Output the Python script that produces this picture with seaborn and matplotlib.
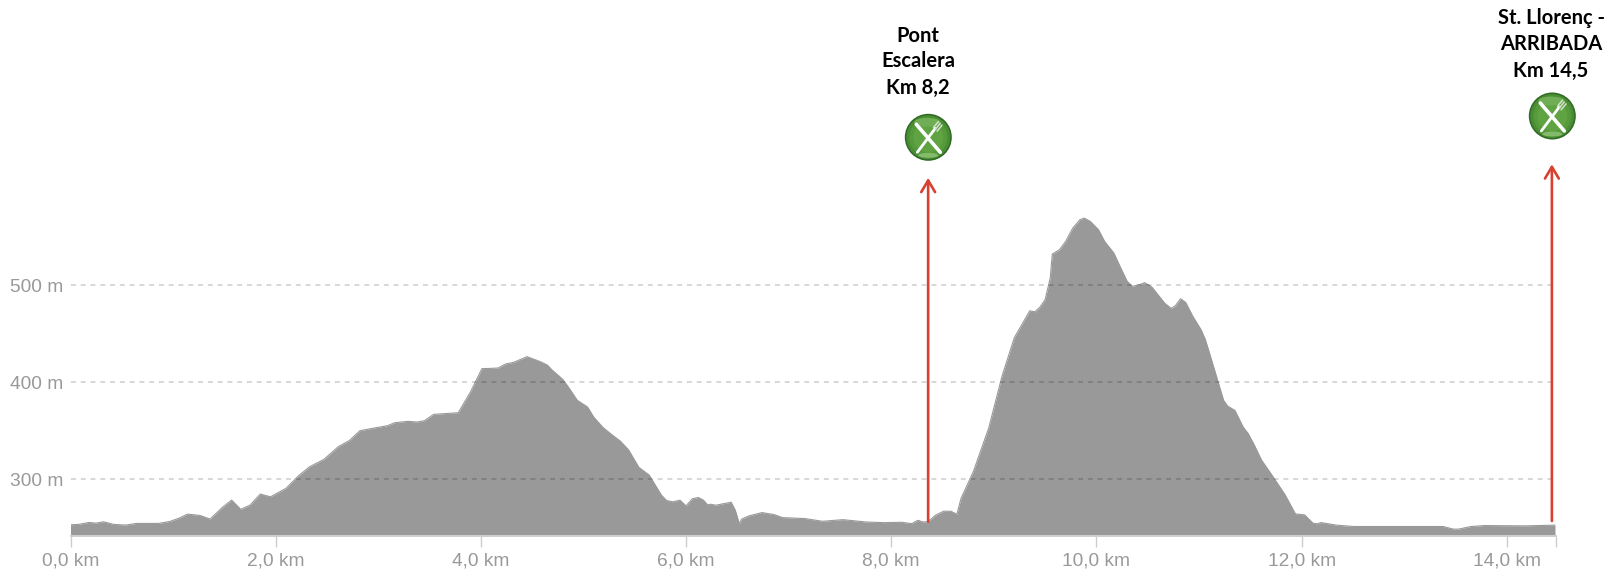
import seaborn as sns
import matplotlib.pyplot as plt
import pandas as pd
from matplotlib.patches import Circle, Ellipse
from matplotlib.transforms import Affine2D

# Elevation profile
km = [0.00, 0.08, 0.18, 0.25, 0.32, 0.42, 0.54, 0.64, 0.86, 0.97, 1.06, 1.14, 1.26, 1.36, 1.48, 1.57,
      1.66, 1.75, 1.85, 1.95, 2.10, 2.22, 2.33, 2.47, 2.61, 2.72, 2.82, 2.96, 3.09, 3.16, 3.29, 3.38,
      3.45, 3.54, 3.78, 3.90, 4.01, 4.10, 4.17, 4.24, 4.32, 4.45, 4.58, 4.65, 4.69, 4.80, 4.87, 4.94,
      5.04, 5.10, 5.19, 5.27, 5.36, 5.44, 5.54, 5.64, 5.69, 5.76, 5.81, 5.87, 5.94, 6.00, 6.06, 6.12,
      6.17, 6.21, 6.24, 6.29, 6.44, 6.48, 6.52, 6.54, 6.61, 6.74, 6.86, 6.94, 7.16, 7.33, 7.53, 7.75,
      7.93, 8.10, 8.20, 8.26, 8.31, 8.36, 8.43, 8.51, 8.58, 8.64, 8.68, 8.80, 8.95, 9.08, 9.20, 9.35,
      9.40, 9.45, 9.50, 9.55, 9.57, 9.64, 9.70, 9.77, 9.84, 9.88, 9.94, 10.02, 10.08, 10.17, 10.23,
      10.30, 10.35, 10.42, 10.47, 10.54, 10.60, 10.67, 10.73, 10.77, 10.82, 10.87, 10.94, 11.02, 11.06,
      11.11, 11.19, 11.24, 11.28, 11.35, 11.43, 11.48, 11.54, 11.61, 11.70, 11.84, 11.94, 12.03, 12.11,
      12.15, 12.19, 12.34, 12.51, 13.38, 13.48, 13.53, 13.65, 13.78, 14.18, 14.47]
elevation = [252.8, 253.2, 255.2, 254.5, 255.9, 253.2, 252.5, 254.2, 254.2, 256.3, 259.7, 263.8, 262.5, 258.7, 270.7, 278.3,
             268.7, 273.1, 284.5, 281.7, 290.4, 303.1, 312.7, 320.3, 333.4, 339.9, 349.9, 352.7, 355.1, 358.2, 359.6, 358.9,
             360.3, 366.8, 368.5, 390.2, 414.0, 414.3, 414.7, 418.8, 420.5, 426.4, 421.2, 417.6, 413.0, 402.8, 392.4, 381.3,
             374.4, 364.0, 353.3, 346.4, 339.1, 330.1, 312.1, 304.2, 295.5, 283.4, 277.9, 276.5, 278.2, 272.3, 279.6, 281.0,
             278.2, 273.4, 274.0, 273.0, 276.1, 267.8, 253.6, 258.5, 261.9, 265.4, 263.3, 260.2, 259.2, 256.4, 258.1, 255.7,
             255.0, 255.4, 254.0, 257.4, 255.7, 256.0, 262.6, 266.8, 266.8, 263.7, 279.9, 307.6, 352.6, 406.2, 446.0, 473.7,
             472.7, 477.6, 485.2, 507.6, 532.4, 536.8, 545.4, 559.2, 567.8, 569.5, 566.1, 557.5, 545.4, 533.4, 519.6,
             504.1, 499.0, 500.7, 502.8, 498.3, 490.4, 481.1, 476.2, 479.0, 486.2, 482.4, 468.0, 454.2, 444.6,
             427.4, 399.0, 381.2, 375.3, 370.9, 353.8, 346.9, 334.9, 319.5, 305.8, 283.6, 264.0, 263.0, 254.5,
             253.8, 255.1, 252.4, 251.0, 251.0, 248.3, 248.3, 251.0, 252.0, 251.7, 252.4]

x_ticks = [0, 2, 4, 6, 8, 10, 12, 14]
x_labels = ['0,0 km', '2,0 km', '4,0 km', '6,0 km', '8,0 km', '10,0 km', '12,0 km', '14,0 km']
y_ticks = [300, 400, 500]
y_labels = ['300 m', '400 m', '500 m']
route_end = 14.48

stop_km = [8.36, 14.44]
stop_tip = [611, 625]
stop_foot = [256, 256.7]
stop_names = [['Pont', 'Escalera', 'Km 8,2'], ['St. Llorenç -', 'ARRIBADA', 'Km 14,5']]

sns.set_style('white')
plt.rcParams['font.family'] = ['Liberation Sans', 'DejaVu Sans']

W, H = 1617, 571
fig = plt.figure(figsize=(W / 100, H / 100), dpi=100)
ax = fig.add_axes([70.5 / W, (H - 536.3) / H, (1556 - 70.5) / W, 536.3 / H])
ax.set_xlim(0, route_end)
ax.set_ylim(240.9, 240.9 + 536.3 / 0.9685)

df = pd.DataFrame({'km': km, 'elevation': elevation})
ax.fill_between(df['km'], 240.9, df['elevation'], color='#999999', lw=0, zorder=1)
sns.lineplot(data=df, x='km', y='elevation', color='#999999', lw=0.8, ax=ax, zorder=1)

# grid sits over the fill, so it goes darker there
ax.hlines(y_ticks, 0, stop_km[1], color='black', alpha=0.2, lw=1.1, linestyles=(0, (3.2, 3.2)), zorder=2)

ax.set_xticks(x_ticks + [route_end])
ax.set_xticklabels(x_labels + [''])
ax.set_yticks(y_ticks)
ax.set_yticklabels(y_labels)
ax.set_xlabel('')
ax.set_ylabel('')
ax.tick_params(axis='x', bottom=True, length=8, width=1, color='#cccccc', pad=3.5, labelsize=13.8, labelcolor='#999999')
ax.tick_params(axis='y', left=False, pad=1.5, labelsize=13.8, labelcolor='#999999')
for side in ['top', 'right', 'left']:
    ax.spines[side].set_visible(False)
ax.spines['bottom'].set_color('#d0d0d0')
ax.spines['bottom'].set_linewidth(1.4)
ax.patch.set_alpha(0)

# pixels from top left, for the drawn icons and the stop captions
px = Affine2D().scale(1, -1).translate(0, H)


def food_icon(cx, cy):
    for r, c in [(23.5, '#2e6a24'), (22, '#4a8c34'), (19, '#559a3b'), (15, '#5fa343')]:
        ax.add_patch(Circle((cx, cy), r, transform=px, color=c, lw=0, clip_on=False, zorder=4))
    ax.add_patch(Ellipse((cx, cy + 18), 20, 5, transform=px, color='#84bb6b', lw=0, clip_on=False, zorder=4))
    ax.add_patch(Ellipse((cx - 1, cy - 15), 26, 9, transform=px, color='#6fae54', lw=0, clip_on=False, zorder=4))
    ax.plot([cx - 12, cx + 12], [cy - 13, cy + 15], transform=px, color='white', lw=2.6,
            solid_capstyle='round', clip_on=False, zorder=5)
    ax.plot([cx - 11, cx + 7], [cy + 15, cy - 9], transform=px, color='white', lw=2.0,
            solid_capstyle='round', clip_on=False, zorder=5)
    for off in [-3, 0, 3]:
        ax.plot([cx + 7 + off * 0.6, cx + 12 + off * 0.6], [cy - 8 + off * 0.6, cy - 14 + off * 0.6], transform=px,
                color='#d5e2cf', lw=1.1, solid_capstyle='round', clip_on=False, zorder=5)


for i in range(len(stop_km)):
    ax.annotate('', xy=(stop_km[i], stop_tip[i]), xytext=(stop_km[i], stop_foot[i]), zorder=3,
                arrowprops=dict(arrowstyle='->,head_length=0.42,head_width=0.25', color='#d8402f', lw=1.9,
                                mutation_scale=20, shrinkA=0, shrinkB=0))

food_icon(928.3, 137.3)
food_icon(1552.3, 116)

name_pos = [(918, [36, 61, 88]), (1551, [18.5, 44.5, 70.5])]
for names, (tx, rows) in zip(stop_names, name_pos):
    for name, ty in zip(names, rows):
        ax.text(tx, ty, name, transform=px, ha='center', va='center', family=['Lato', 'DejaVu Sans'],
                fontweight='bold', fontsize=14.5, color='black', clip_on=False)

fig.savefig('out.png', dpi=100)
